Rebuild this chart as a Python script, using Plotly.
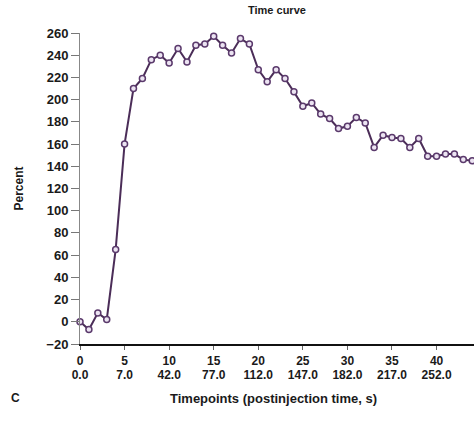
import plotly.graph_objects as go

timepoints = list(range(0, 45))
percent = [0, -7, 8, 2, 65, 160, 210, 219, 236, 240,
           233, 246, 234, 249, 250, 257, 249, 242, 255, 250,
           227, 216, 227, 219, 207, 194, 197, 187, 183, 174,
           176, 184, 179, 157, 168, 166, 165, 157, 165, 149,
           149, 151, 151, 146, 145]

tick_vals = [0, 5, 10, 15, 20, 25, 30, 35, 40]
tick_secs = ["0.0", "7.0", "42.0", "77.0", "112.0", "147.0", "182.0", "217.0", "252.0"]
y_ticks = list(range(-20, 261, 20))

font_family = "Liberation Sans, Arial, sans-serif"
dark = "#1a1a1a"

fig = go.Figure()
fig.add_trace(go.Scatter(
    x=timepoints, y=percent, mode="lines+markers",
    line=dict(color="#4b2d58", width=2),
    marker=dict(symbol="circle", size=6, color="#ece4f2",
                line=dict(color="#5b3a6c", width=1.5)),
    cliponaxis=False, showlegend=False,
))
# invisible trace carrying the secondary (seconds) tick row
fig.add_trace(go.Scatter(
    x=timepoints, y=percent, xaxis="x2", mode="none",
    hoverinfo="skip", showlegend=False,
))

fig.update_layout(
    width=474, height=424,
    margin=dict(l=80, r=0, t=33, b=80),
    paper_bgcolor="white", plot_bgcolor="white",
    font=dict(family=font_family, color=dark),
    xaxis=dict(
        range=[0, 44.2], tickmode="array", tickvals=tick_vals,
        ticktext=[str(v) for v in tick_vals],
        showgrid=False, zeroline=False, showline=True, linecolor="#111", linewidth=2,
        ticks="outside", ticklen=4, tickcolor="#666", tickwidth=1,
        ticklabelstandoff=1,
        tickfont=dict(size=12, color=dark, weight="bold"),
    ),
    xaxis2=dict(
        range=[0, 44.2], overlaying="x", side="bottom", anchor="y",
        tickmode="array", tickvals=tick_vals, ticktext=tick_secs,
        showgrid=False, zeroline=False, showline=False,
        ticks="outside", ticklen=4, tickcolor="rgba(0,0,0,0)",
        ticklabelstandoff=16,
        tickfont=dict(size=12, color=dark, weight="bold"),
    ),
    yaxis=dict(
        range=[-20, 260], tickmode="array", tickvals=y_ticks,
        showgrid=False, zeroline=False, showline=True, linecolor="#888", linewidth=1,
        ticks="outside", ticklen=8, tickcolor="#777", tickwidth=1,
        tickfont=dict(size=13, color=dark, weight="bold"),
    ),
    annotations=[
        dict(text="Time curve", xref="paper", yref="paper", x=0.5, y=1 + 23 / 311,
             showarrow=False, font=dict(size=11, color=dark, weight="bold"),
             xanchor="center", yanchor="middle"),
        dict(text="Timepoints (postinjection time, s)", xref="paper", yref="paper",
             x=0.49, y=-(398 - 344) / 311, showarrow=False,
             font=dict(size=13, color=dark, weight="bold"),
             xanchor="center", yanchor="middle"),
        dict(text="Percent", xref="paper", yref="paper", x=(18 - 80) / 394, y=0.5,
             textangle=-90, showarrow=False,
             font=dict(size=12, color=dark, weight="bold"),
             xanchor="center", yanchor="middle"),
        dict(text="C", xref="paper", yref="paper", x=(15 - 80) / 394,
             y=-(398 - 344) / 311, showarrow=False,
             font=dict(size=12, color=dark, weight="bold"),
             xanchor="center", yanchor="middle"),
    ],
)

fig.write_html("out.html", config={"displayModeBar": False},
               post_script="document.body.style.margin='0';")
